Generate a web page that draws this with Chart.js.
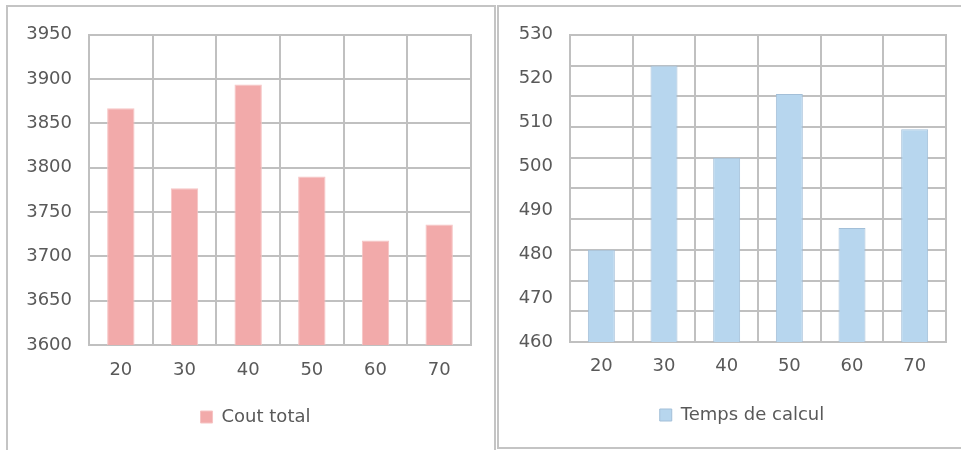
<!DOCTYPE html>
<html>
<head>
<meta charset="utf-8">
<script src="https://cdn.jsdelivr.net/npm/chart.js@4.4.1/dist/chart.umd.min.js"></script>
<style>
  html, body { margin: 0; padding: 0; background: #fff; overflow: hidden; }
  body { width: 961px; height: 450px; position: relative; }
  .frame { position: absolute; border: 2px solid #c4c4c4; box-sizing: border-box; }
  canvas { position: absolute; }
</style>
</head>
<body>
<div class="frame" style="left:6px;top:5px;width:490px;height:460px;"></div>
<div class="frame" style="left:497px;top:5px;width:480px;height:444px;"></div>
<canvas id="coutChart" width="495" height="443" style="left:8px;top:7px;"></canvas>
<canvas id="tempsChart" width="486" height="440" style="left:499px;top:7px;"></canvas>
<script>
const categories = ['20', '30', '40', '50', '60', '70'];
const coutTotal = [3867, 3777, 3894, 3790, 3718, 3736];
const tempsCalcul = [481, 523, 502, 516.5, 486, 508.5];
const coutTicks = [3600, 3650, 3700, 3750, 3800, 3850, 3900, 3950];
const coutGrid = [3600, 3650, 3700, 3750, 3800, 3850, 3900, 3950];
const tempsTicks = [460, 470, 480, 490, 500, 510, 520, 530];
const tempsGrid = [460, 467, 474, 481, 488, 495, 502, 509, 516, 523, 530];

Chart.defaults.font.family = "'DejaVu Sans', sans-serif";
Chart.defaults.font.size = 18;
Chart.defaults.color = '#595959';

const gridColor = '#c0c0c0';

function barChart(id, label, values, fill, edge, ticks, gridTicks, box) {
  const ctx = document.getElementById(id).getContext('2d');
  const lo = ticks[0], hi = ticks[ticks.length - 1];
  return new Chart(ctx, {
    type: 'bar',
    data: {
      labels: categories,
      datasets: [{
        label: label,
        data: values,
        backgroundColor: fill,
        borderColor: edge,
        borderWidth: 1,
        categoryPercentage: 1,
        barPercentage: 0.43,
      }],
    },
    options: {
      responsive: false,
      animation: false,
      devicePixelRatio: 1,
      layout: { padding: { top: box.top, bottom: box.bottom, left: 0, right: 0 } },
      plugins: {
        legend: {
          position: 'bottom',
          labels: { boxWidth: 12, boxHeight: 12, padding: 10, font: { size: 18 } },
        },
        tooltip: { enabled: false },
      },
      scales: {
        x: {
          grid: { color: gridColor, lineWidth: 2, drawTicks: false, offset: true },
          border: { color: gridColor, width: 2 },
          ticks: { padding: box.xPad },
          afterFit: (s) => { s.height = box.xh; },
        },
        y: {
          min: lo,
          max: hi,
          grid: { display: false, drawTicks: false },
          border: { color: gridColor, width: 2 },
          ticks: { padding: 17, callback: (v) => String(v) },
          afterBuildTicks: (s) => { s.ticks = ticks.map((v) => ({ value: v })); },
          afterFit: (s) => { s.width = box.yw; },
        },
        yGrid: {
          position: 'right',
          min: lo,
          max: hi,
          grid: { color: gridColor, lineWidth: 2, drawTicks: false },
          border: { color: gridColor, width: 2 },
          ticks: { display: false },
          afterBuildTicks: (s) => { s.ticks = gridTicks.map((v) => ({ value: v })); },
          afterFit: (s) => { s.width = box.rw; },
        },
      },
    },
  });
}

barChart('coutChart', 'Cout total', coutTotal, '#f2aaaa', '#f6c4c4', coutTicks, coutGrid,
  { top: 26, bottom: 14, xh: 53, xPad: 15, yw: 81, rw: 32 });
barChart('tempsChart', 'Temps de calcul', tempsCalcul, '#b7d6ee', '#a3bfd8', tempsTicks, tempsGrid,
  { top: 26, bottom: 13, xh: 54, xPad: 14, yw: 71, rw: 39 });
</script>
</body>
</html>
